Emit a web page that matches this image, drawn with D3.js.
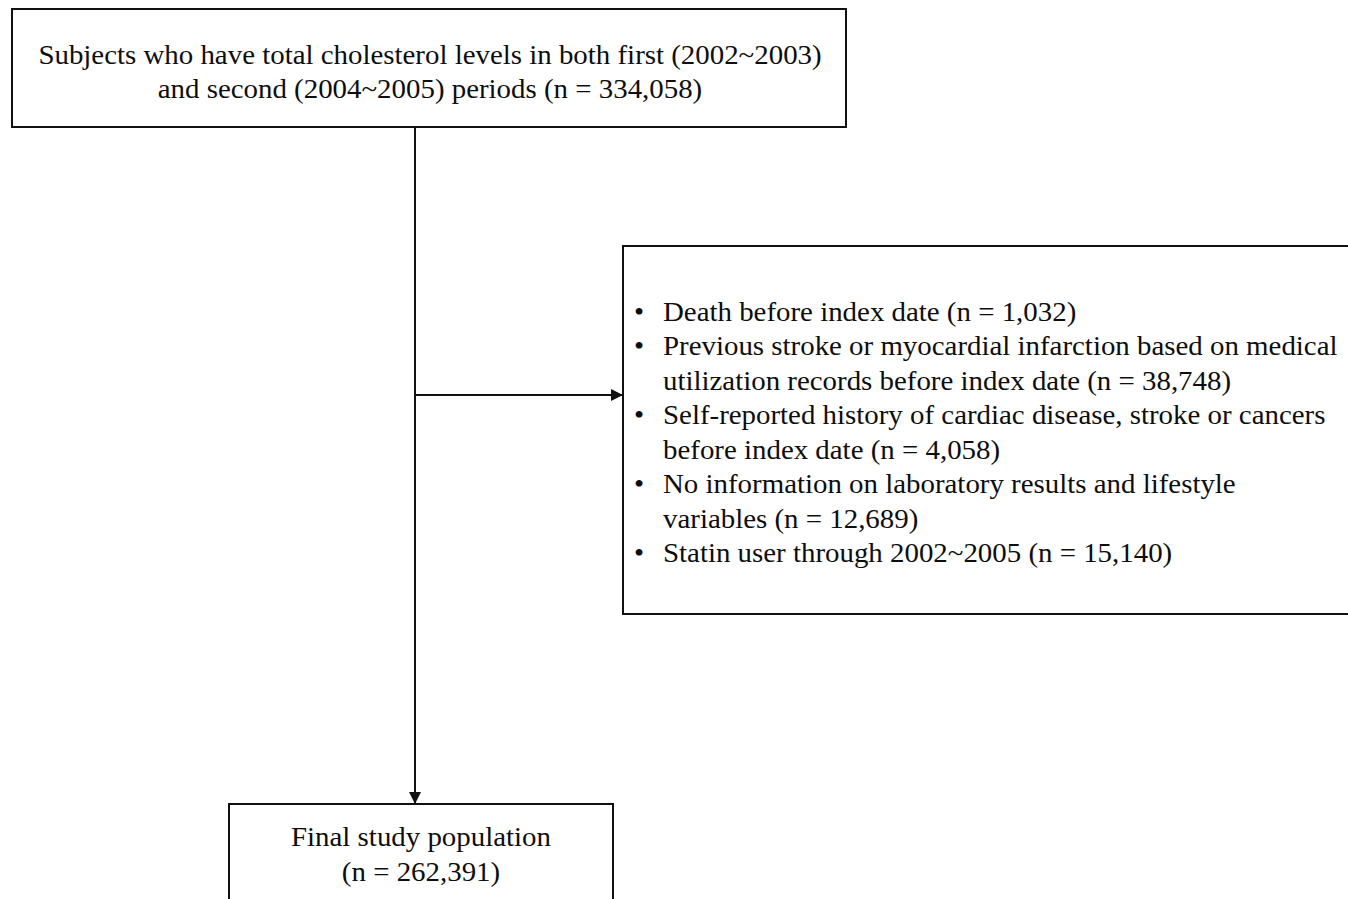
<!DOCTYPE html>
<html>
<head>
<meta charset="utf-8">
<script src="https://cdn.jsdelivr.net/npm/d3@7"></script>
<style>
  html, body { margin: 0; padding: 0; background: #fff; }
  svg { display: block; }
</style>
</head>
<body>
<svg id="chart" width="1348" height="899"></svg>
<script>
// ---- Data ----
const topLines = [
  "Subjects who have total cholesterol levels in both first (2002~2003)",
  "and second (2004~2005) periods (n = 334,058)"
];
const exclusionItems = [
  ["Death before index date (n = 1,032)"],
  ["Previous stroke or myocardial infarction based on medical", "utilization records before index date (n = 38,748)"],
  ["Self-reported history of cardiac disease, stroke or cancers", "before index date (n = 4,058)"],
  ["No information on laboratory results and lifestyle", "variables (n = 12,689)"],
  ["Statin user through 2002~2005 (n = 15,140)"]
];
const finalLines = ["Final study population", "(n = 262,391)"];

// ---- Layout ----
const svg = d3.select("#chart");
const font = "'Liberation Serif', 'Times New Roman', serif";
const fs = 27;
const sx = 1.07;
const lh = 34.5;
const stroke = "#111";
const ink = "#0d0d0d";

const boxes = {
  top:   {x: 12,  y: 9,   w: 834, h: 118},
  excl:  {x: 623, y: 246, w: 760, h: 368},
  final: {x: 229, y: 804, w: 384, h: 140}
};

svg.append("defs").append("marker")
  .attr("id", "arrow")
  .attr("viewBox", "0 0 10 10")
  .attr("refX", 10).attr("refY", 5)
  .attr("markerWidth", 13).attr("markerHeight", 12)
  .attr("markerUnits", "userSpaceOnUse")
  .attr("orient", "auto")
  .append("path").attr("d", "M0,0 L10,5 L0,10 Z").attr("fill", stroke);

// boxes
svg.selectAll("rect.box")
  .data(Object.values(boxes))
  .join("rect")
  .attr("class", "box")
  .attr("x", d => d.x).attr("y", d => d.y)
  .attr("width", d => d.w).attr("height", d => d.h)
  .attr("fill", "#fff").attr("stroke", stroke).attr("stroke-width", 2);

// connectors
const stemX = 415;
svg.append("line")
  .attr("x1", stemX).attr("y1", boxes.top.y + boxes.top.h)
  .attr("x2", stemX).attr("y2", boxes.final.y)
  .attr("stroke", stroke).attr("stroke-width", 2)
  .attr("marker-end", "url(#arrow)");
svg.append("line")
  .attr("x1", stemX).attr("y1", 395)
  .attr("x2", boxes.excl.x).attr("y2", 395)
  .attr("stroke", stroke).attr("stroke-width", 2)
  .attr("marker-end", "url(#arrow)");

function styleText(sel) {
  return sel.attr("font-family", font).attr("font-size", fs).attr("fill", ink);
}

// top text
const topCx = boxes.top.x + boxes.top.w / 2 + 1;
styleText(svg.append("g").selectAll("text")
  .data(topLines)
  .join("text")
  .attr("transform", (d, i) => `translate(${topCx},${63.5 + i * lh}) scale(${sx},1)`)
  .attr("text-anchor", "middle"))
  .text(d => d);

// exclusion text
const flat = [];
let row = 0;
exclusionItems.forEach(item => {
  item.forEach((line, j) => {
    flat.push({line, row, bullet: j === 0});
    row++;
  });
});
const exG = svg.append("g");
styleText(exG.selectAll("text.item")
  .data(flat)
  .join("text")
  .attr("class", "item")
  .attr("transform", d => `translate(663,${320.5 + d.row * lh}) scale(${sx},1)`))
  .text(d => d.line);
styleText(exG.selectAll("text.bullet")
  .data(flat.filter(d => d.bullet))
  .join("text")
  .attr("class", "bullet")
  .attr("transform", d => `translate(639,${320.5 + d.row * lh}) scale(${sx},1)`)
  .attr("text-anchor", "middle"))
  .text("•");

// final text
const finCx = boxes.final.x + boxes.final.w / 2 + 0;
styleText(svg.append("g").selectAll("text")
  .data(finalLines)
  .join("text")
  .attr("transform", (d, i) => `translate(${finCx},${846 + i * lh}) scale(${sx},1)`)
  .attr("text-anchor", "middle"))
  .text(d => d);
</script>
</body>
</html>
